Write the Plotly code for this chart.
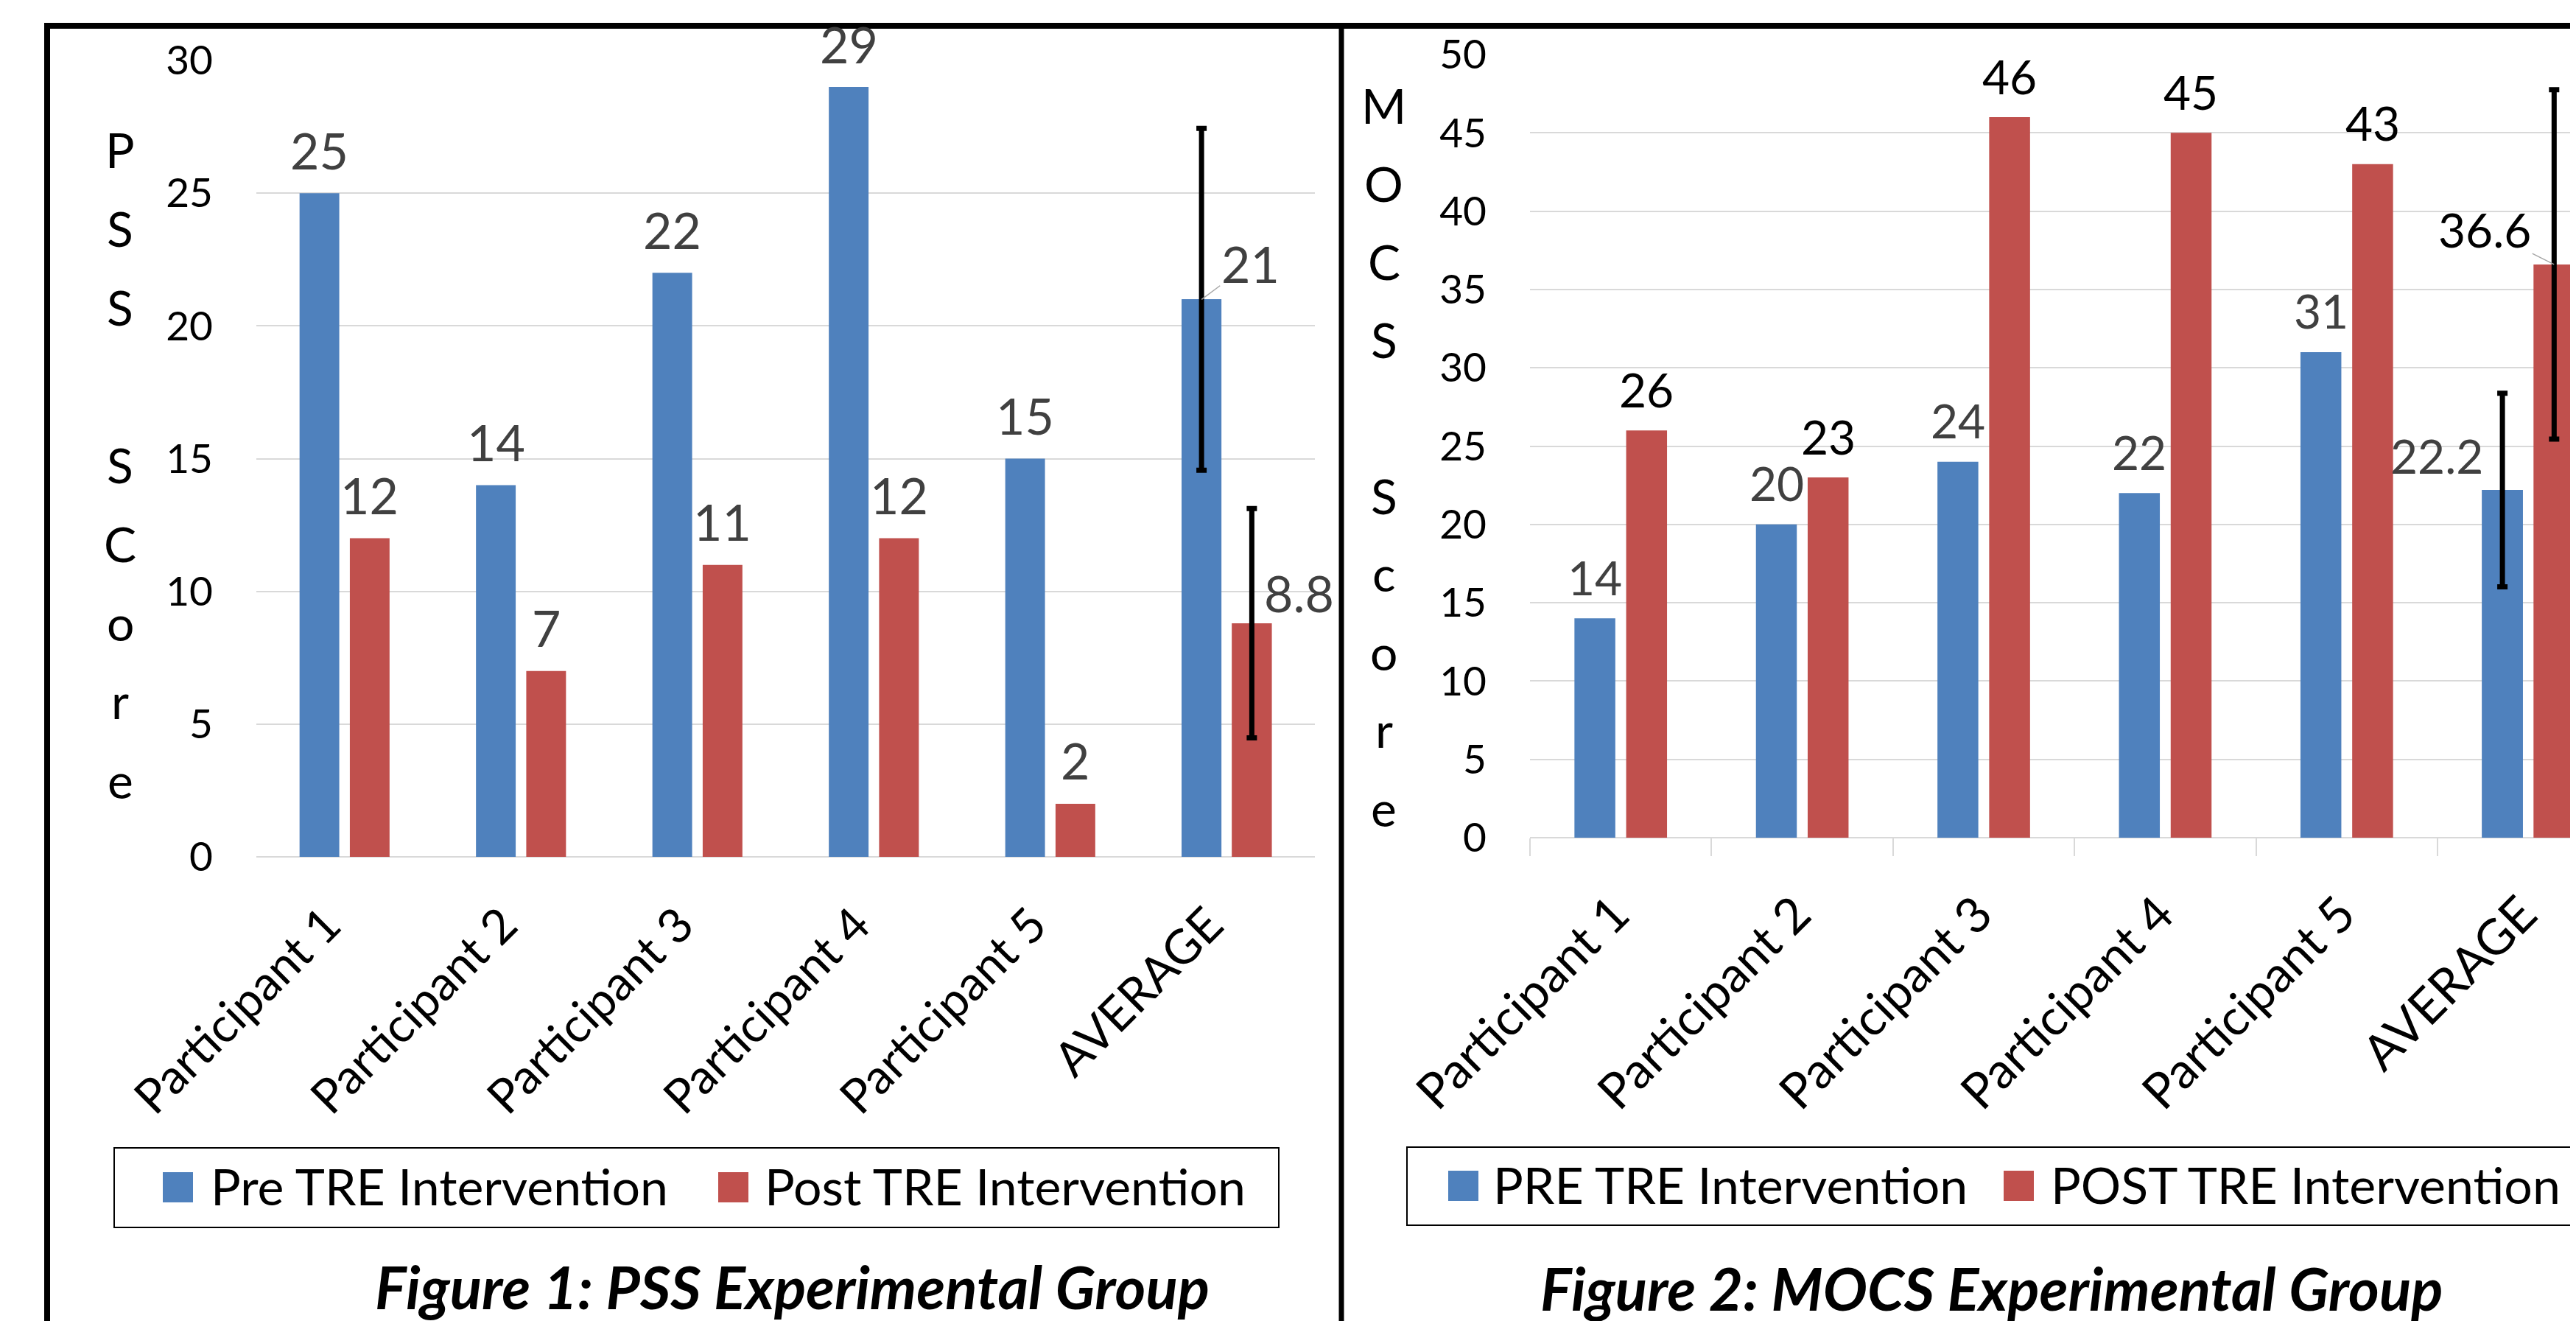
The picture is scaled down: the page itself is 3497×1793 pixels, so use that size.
import plotly.graph_objects as go

# ---------------- data ----------------
categories = ["Participant 1", "Participant 2", "Participant 3", "Participant 4", "Participant 5", "AVERAGE"]
pss_pre = [25, 14, 22, 29, 15, 21]
pss_post = [12, 7, 11, 12, 2, 8.8]
pss_pre_sd = 6.44
pss_post_sd = 4.32

mocs_pre = [14, 20, 24, 22, 31, 22.2]
mocs_post = [26, 23, 46, 45, 43, 36.6]
mocs_pre_sd = 6.18
mocs_post_sd = 11.15

pss_ticks = [0, 5, 10, 15, 20, 25, 30]
mocs_ticks = [0, 5, 10, 15, 20, 25, 30, 35, 40, 45, 50]

legend1 = ["Pre TRE Intervention", "Post TRE Intervention"]
legend2 = ["PRE TRE Intervention", "POST TRE Intervention"]
title1 = "Figure 1: PSS Experimental Group"
title2 = "Figure 2: MOCS Experimental Group"
ytitle1 = ["P", "S", "S", "", "S", "C", "o", "r", "e"]
ytitle2 = ["M", "O", "C", "S", "", "S", "c", "o", "r", "e"]

# ---------------- styling ----------------
W, H = 3497, 1793
BLUE = "#4F81BD"
RED = "#C0504D"
GRID = "#D9D9D9"
LBL = "#404040"
FONT = "Lato"


def px(x):
    return x / W


def py(y):
    return 1 - y / H


fig = go.Figure()

err_style = dict(type="data", visible=True, color="black", thickness=7, width=7)


def add_series(vals, sd, color, name, xa, ya, group):
    fig.add_trace(go.Bar(x=categories, y=vals, name=name, marker=dict(color=color, line=dict(width=0)),
                         offsetgroup=group, xaxis=xa, yaxis=ya, showlegend=False))
    # average bar again (same slot) carrying the SD error bar
    fig.add_trace(go.Bar(x=categories[-1:], y=vals[-1:], name=name, marker=dict(color=color, line=dict(width=0)),
                         offsetgroup=group, error_y=dict(array=[sd], **err_style),
                         xaxis=xa, yaxis=ya, showlegend=False))


add_series(pss_pre, pss_pre_sd, BLUE, legend1[0], "x", "y", "a")
add_series(pss_post, pss_post_sd, RED, legend1[1], "x", "y", "b")
add_series(mocs_pre, mocs_pre_sd, BLUE, legend2[0], "x2", "y2", "a")
add_series(mocs_post, mocs_post_sd, RED, legend2[1], "x2", "y2", "b")

annotations = []

# data labels (participants), centred above each bar
for i, c in enumerate(categories[:-1]):
    annotations.append(dict(x=c, y=pss_pre[i], xref="x", yref="y", text=str(pss_pre[i]), showarrow=False,
                            xshift=-34, yshift=59, yanchor="middle",
                            font=dict(family=FONT, size=68, color=LBL)))
    annotations.append(dict(x=c, y=pss_post[i], xref="x", yref="y", text=str(pss_post[i]), showarrow=False,
                            xshift=34, yshift=59, yanchor="middle",
                            font=dict(family=FONT, size=68, color=LBL)))
    annotations.append(dict(x=c, y=mocs_pre[i], xref="x2", yref="y2", text=str(mocs_pre[i]), showarrow=False,
                            xshift=-35, yshift=56, yanchor="middle",
                            font=dict(family=FONT, size=64, color=LBL)))
    annotations.append(dict(x=c, y=mocs_post[i], xref="x2", yref="y2", text=str(mocs_post[i]), showarrow=False,
                            xshift=35, yshift=56, yanchor="middle",
                            font=dict(family=FONT, size=64, color="black")))

# average labels
avg = categories[-1]
annotations.append(dict(x=avg, y=pss_pre[-1], xref="x", yref="y", text=str(pss_pre[-1]), showarrow=True,
                        xshift=-34, ax=66, ay=-49, arrowhead=0, arrowwidth=1.5, arrowcolor="#A6A6A6",
                        font=dict(family=FONT, size=68, color=LBL)))
annotations.append(dict(x=avg, y=pss_post[-1], xref="x", yref="y", text=str(pss_post[-1]), showarrow=False,
                        xshift=98, yshift=41, yanchor="middle",
                        font=dict(family=FONT, size=68, color=LBL)))
annotations.append(dict(x=avg, y=mocs_pre[-1], xref="x2", yref="y2", text=str(mocs_pre[-1]), showarrow=False,
                        xshift=-124, yshift=47, yanchor="middle",
                        font=dict(family=FONT, size=64, color=LBL)))
annotations.append(dict(x=avg, y=mocs_post[-1], xref="x2", yref="y2", text=str(mocs_post[-1]), showarrow=True,
                        xshift=35, ax=-94, ay=-47, arrowhead=0, arrowwidth=1.5, arrowcolor="#A6A6A6",
                        font=dict(family=FONT, size=64, color="black")))

# stacked-letter y-axis titles
for k, ch in enumerate(ytitle1):
    if ch:
        annotations.append(dict(x=px(155), y=py(194 + k * 107), xref="paper", yref="paper", text=ch,
                                showarrow=False, xanchor="center", yanchor="middle",
                                font=dict(family=FONT, size=66, color="black")))
for k, ch in enumerate(ytitle2):
    if ch:
        annotations.append(dict(x=px(1871), y=py(134 + k * 106), xref="paper", yref="paper", text=ch,
                                showarrow=False, xanchor="center", yanchor="middle",
                                font=dict(family=FONT, size=66, color="black")))

# custom legends
shapes = []


def legend(box, items):
    x0, y0, x1, y1 = box
    shapes.append(dict(type="rect", xref="paper", yref="paper", x0=px(x0), x1=px(x1), y0=py(y1), y1=py(y0),
                       line=dict(color="black", width=2), fillcolor="white", layer="below"))
    ymid = (y0 + y1) / 2
    for sx, tx, color, label in items:
        shapes.append(dict(type="rect", xref="paper", yref="paper", x0=px(sx), x1=px(sx + 41),
                           y0=py(ymid + 20), y1=py(ymid - 21), line=dict(width=0), fillcolor=color))
        annotations.append(dict(x=px(tx), y=py(ymid - 3), xref="paper", yref="paper", text=label, showarrow=False,
                                xanchor="left", yanchor="middle", font=dict(family=FONT, size=68, color="black")))


legend((147, 1550, 1728, 1658), [(213, 276, BLUE, legend1[0]), (967, 1028, RED, legend1[1])])
legend((1902, 1549, 3484, 1655), [(1958, 2017, BLUE, legend2[0]), (2712, 2774, RED, legend2[1])])

# figure captions
annotations.append(dict(x=px(1067), y=py(1738), xref="paper", yref="paper", text=title1, showarrow=False,
                        xanchor="center", yanchor="middle",
                        font=dict(family=FONT, size=80, color="black", weight="bold", style="italic")))
annotations.append(dict(x=px(2695), y=py(1740), xref="paper", yref="paper", text=title2, showarrow=False,
                        xanchor="center", yanchor="middle",
                        font=dict(family=FONT, size=80, color="black", weight="bold", style="italic")))

# panel borders
shapes.append(dict(type="line", xref="paper", yref="paper", x0=px(52), x1=1, y0=py(27), y1=py(27),
                   line=dict(color="black", width=8)))
shapes.append(dict(type="line", xref="paper", yref="paper", x0=px(56), x1=px(56), y0=py(23), y1=0,
                   line=dict(color="black", width=8)))
shapes.append(dict(type="line", xref="paper", yref="paper", x0=px(1813), x1=px(1813), y0=py(23), y1=0,
                   line=dict(color="black", width=7)))

cat_w2 = 246.4
x2_max = -0.5 + (W - 2069) / cat_w2

fig.update_layout(
    width=W, height=H,
    margin=dict(l=0, r=0, t=0, b=0, pad=0, autoexpand=False),
    paper_bgcolor="white", plot_bgcolor="white",
    barmode="group", bargap=0.43, bargroupgap=0.21,
    showlegend=False,
    font=dict(family=FONT, color="black"),
    xaxis=dict(domain=[px(340), px(1777)], anchor="y", range=[-0.5, 5.5], type="category", automargin=False,
               showgrid=False, zeroline=False, showline=False, ticks="",
               tickangle=-45, tickfont=dict(family=FONT, size=65, color="black"),
               ticklabelstandoff=40, ticklabelshift=-24),
    yaxis=dict(domain=[py(1155), py(74)], anchor="x", range=[0, 30], tickvals=pss_ticks, automargin=False,
               showgrid=True, gridcolor=GRID, gridwidth=2, zeroline=True, zerolinecolor=GRID, zerolinewidth=2,
               showline=False, ticks="", tickfont=dict(family=FONT, size=55, color="black"),
               ticklabelstandoff=58),
    xaxis2=dict(domain=[px(2069), 1.0], anchor="y2", range=[-0.5, x2_max], type="category", automargin=False,
                showgrid=False, zeroline=False, showline=False, ticks="outside", tickson="boundaries",
                ticklen=24, tickwidth=2, tickcolor=GRID,
                tickangle=-45, tickfont=dict(family=FONT, size=67, color="black"),
                ticklabelstandoff=50, ticklabelshift=-8),
    yaxis2=dict(domain=[py(1129), py(66)], anchor="x2", range=[0, 50], tickvals=mocs_ticks, automargin=False,
                showgrid=True, gridcolor=GRID, gridwidth=2, zeroline=True, zerolinecolor=GRID, zerolinewidth=2,
                showline=False, ticks="", tickfont=dict(family=FONT, size=55, color="black"),
                ticklabelstandoff=58),
    annotations=annotations,
    shapes=shapes,
)

fig.write_html("out.html")
